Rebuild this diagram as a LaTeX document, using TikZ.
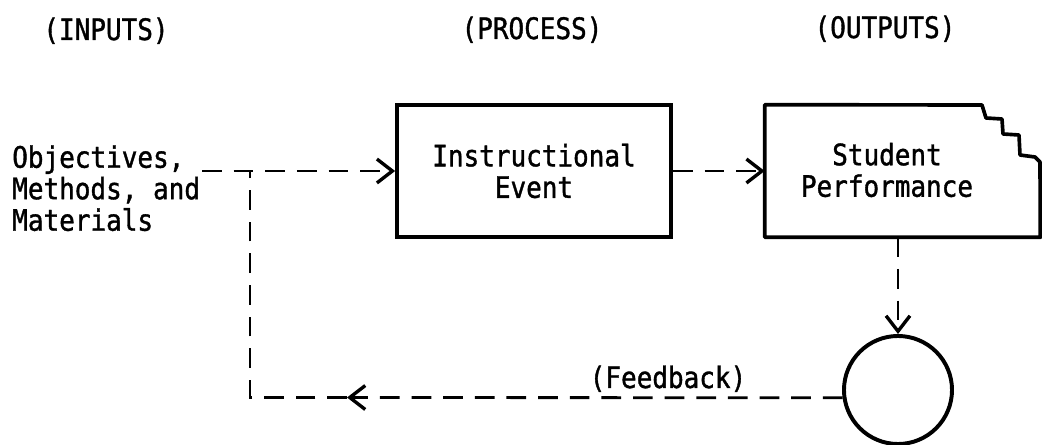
\documentclass[tikz,border=0pt]{standalone}
\usepackage{fontspec}
\setmonofont[FakeStretch=0.88,FakeBold=1.2]{DejaVu Sans Mono}
\usetikzlibrary{arrows.meta}

\begin{document}
\begin{tikzpicture}[x=0.025cm,y=-0.025cm,
    every node/.style={font=\ttfamily\fontsize{21}{22.4}\selectfont,inner sep=0pt},
    flow/.style={line width=2pt,dash pattern=on 14pt off 8.5pt},
    tip/.style={-{Straight Barb[length=11pt,width=17pt,line width=2.4pt]}},
    stepbox/.style={draw,line width=2.6pt,minimum width=6.85cm,minimum height=3.3cm,align=center}]
  \useasboundingbox (0,0) rectangle (1042,445);
  % headings
  \node[anchor=base] (hin) at (106,40) {(INPUTS)};
  \node[anchor=base] (hproc) at (532,39) {(PROCESS)};
  \node[anchor=base] (hout) at (885,38) {(OUTPUTS)};
  % inputs, event, performance
  \node[anchor=north west,align=left] (inputs) at (12,145) {Objectives,\\Methods, and\\Materials};
  \node[stepbox] (event) at (534,171) {Instructional\\Event};
  \node[minimum width=6.875cm,minimum height=3.3cm] (perf) at (902.5,171) {};
  \draw[line width=2.6pt,line join=round] (perf.north west) -- (982,105) -- (986,118)
    -- (1002,119) -- (1003,134) -- (1019,135) -- (1020,155) -- (1035,157)
    -- (1040,162) -- (perf.south east) -- (perf.south west) -- cycle;
  \node[align=center] (perftext) at (887,170) {Student\\Performance};
  \node[draw,circle,line width=2.8pt,minimum size=2.7cm] (eval) at (898,390) {};
  % connectors
  \coordinate (inp) at (202,171);
  \coordinate (fbtip) at (347,397.5);
  \coordinate (fbturn) at (250,397.5);
  \coordinate (fbtop) at (250,171);
  \draw[flow,tip] (inp) -- (event.west);
  \draw[flow,tip] (event.east) -- (perf.west);
  \draw[flow,tip] (perf.south -| eval.north) -- (eval.north);
  \draw[flow,tip] (eval.188) -- (fbtip);
  \draw[flow] (fbtip) -- (fbturn) -- (fbtop);
  \node[anchor=base] (fb) at (668,388) {(Feedback)};
\end{tikzpicture}
\end{document}
